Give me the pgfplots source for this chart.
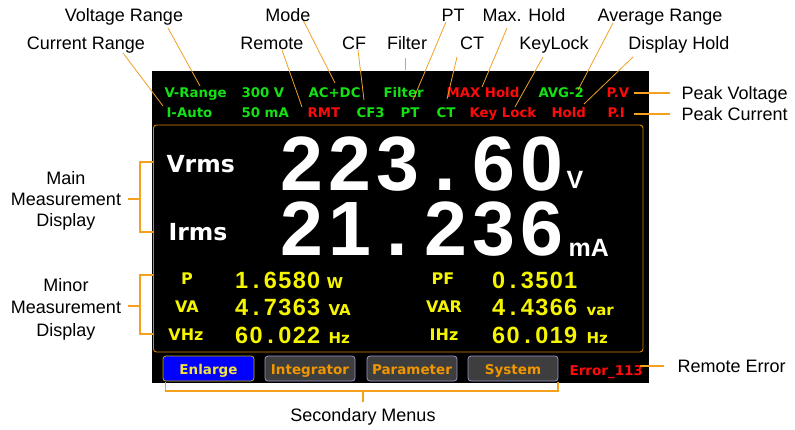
\documentclass[border=0pt]{standalone}
\usepackage{pgfplots}
\pgfplotsset{compat=1.18}
\usepackage{fontspec}
\setmainfont{Liberation Sans}
\newfontfamily\dv{DejaVu Sans}
\newfontfamily\ls{Liberation Sans}
\newcommand\fs[1]{\fontsize{#1}{#1}\selectfont}
\newcommand\bc[1]{\makebox[48pt][c]{#1}}
\newcommand\mc[1]{\makebox[14.4pt][c]{#1}}
\definecolor{ld}{RGB}{240,160,40}
\definecolor{br}{RGB}{245,160,30}
\definecolor{fr}{RGB}{215,135,0}
\definecolor{sg}{RGB}{20,225,20}
\definecolor{sr}{RGB}{255,10,10}
\definecolor{sy}{RGB}{245,245,0}
\definecolor{btxt}{RGB}{240,150,0}
\definecolor{bgray}{RGB}{62,62,62}
\definecolor{bbord}{RGB}{150,150,200}
\definecolor{eyl}{RGB}{240,225,70}
\definecolor{eborder}{RGB}{190,170,0}
\begin{document}
\begin{tikzpicture}
\begin{axis}[x=1pt,y=1pt,y dir=reverse,xmin=0,xmax=795,ymin=0,ymax=429,
  hide axis,scale only axis,clip=false,
  every node/.append style={inner sep=0pt,outer sep=0pt}]
\path (axis cs:0,0) rectangle (axis cs:795,429);
% screen
\fill[black] (axis cs:152,71) rectangle (axis cs:649,383);
\draw[fr,line width=0.9pt,rounded corners=3pt] (axis cs:153.5,125) rectangle (axis cs:643,352);
% status rows
\begin{scope}[every node/.append style={anchor=base west,font=\dv\bfseries\fs{13.3}}]
\node[text=sg] at (axis cs:161,97) {V-Range};
\node[text=sg] at (axis cs:238,97) {300 V};
\node[text=sg] at (axis cs:305,97) {AC+DC};
\node[text=sg] at (axis cs:380,97) {Filter};
\node[text=sr] at (axis cs:443,97) {MAX Hold};
\node[text=sg] at (axis cs:535,97) {AVG-2};
\node[text=sr] at (axis cs:603,97) {P.V};
\node[text=sg] at (axis cs:163,117) {I-Auto};
\node[text=sg] at (axis cs:238,117) {50 mA};
\node[text=sr] at (axis cs:304,117) {RMT};
\node[text=sg] at (axis cs:353,117) {CF3};
\node[text=sg] at (axis cs:397,117) {PT};
\node[text=sg] at (axis cs:433,117) {CT};
\node[text=sr] at (axis cs:466,117) {Key Lock};
\node[text=sr] at (axis cs:548,117) {Hold};
\node[text=sr] at (axis cs:604,117) {P.I};
\end{scope}
% main measurement
\node[anchor=base west,text=white,font=\dv\bfseries\fs{23.5}] at (axis cs:163,172) {Vrms};
\node[anchor=base west,text=white,font=\dv\bfseries\fs{23.5}] at (axis cs:165,240) {Irms};
\node[anchor=base west,text=white,font=\ls\bfseries\fs{77},text height=56pt,text depth=0pt] at (axis cs:274,190) {\bc{2}\bc{2}\bc{3}\bc{.}\bc{6}\bc{0}};
\node[anchor=base west,text=white,font=\ls\bfseries\fs{77},text height=56pt,text depth=0pt] at (axis cs:274,255) {\bc{2}\bc{1}\bc{.}\bc{2}\bc{3}\bc{6}};
\node[anchor=base west,text=white,font=\ls\bfseries\fs{25}] at (axis cs:563,188) {V};
\node[anchor=base west,text=white,font=\ls\bfseries\fs{25}] at (axis cs:565,256) {mA};
% minor measurement
\begin{scope}[every node/.append style={anchor=base,text=sy,font=\dv\bfseries\fs{16}}]
\node at (axis cs:187,284) {P};
\node at (axis cs:187,312) {VA};
\node at (axis cs:186,340) {VHz};
\node at (axis cs:443,284) {PF};
\node at (axis cs:444,312) {VAR};
\node at (axis cs:444,340) {IHz};
\end{scope}
\begin{scope}[every node/.append style={anchor=base west,text=sy,font=\ls\bfseries\fs{23.5}}]
\node at (axis cs:231,288) {\mc{1}\mc{.}\mc{6}\mc{5}\mc{8}\mc{0}};
\node at (axis cs:231,315) {\mc{4}\mc{.}\mc{7}\mc{3}\mc{6}\mc{3}};
\node at (axis cs:231,343) {\mc{6}\mc{0}\mc{.}\mc{0}\mc{2}\mc{2}};
\node at (axis cs:488,288) {\mc{0}\mc{.}\mc{3}\mc{5}\mc{0}\mc{1}};
\node at (axis cs:488,315) {\mc{4}\mc{.}\mc{4}\mc{3}\mc{6}\mc{6}};
\node at (axis cs:488,343) {\mc{6}\mc{0}\mc{.}\mc{0}\mc{1}\mc{9}};
\end{scope}
\begin{scope}[every node/.append style={anchor=base west,text=sy,font=\dv\bfseries\fs{15}}]
\node at (axis cs:323,288) {W};
\node at (axis cs:325,315) {VA};
\node at (axis cs:325,343) {Hz};
\node at (axis cs:583,315) {var};
\node at (axis cs:583,343) {Hz};
\end{scope}
% buttons
\draw[eborder,fill=blue,line width=0.8pt,rounded corners=3pt] (axis cs:163,356) rectangle (axis cs:254,381);
\draw[bbord,fill=bgray,line width=0.8pt,rounded corners=3pt] (axis cs:265,356) rectangle (axis cs:355,381);
\draw[bbord,fill=bgray,line width=0.8pt,rounded corners=3pt] (axis cs:367,356) rectangle (axis cs:457,381);
\draw[bbord,fill=bgray,line width=0.8pt,rounded corners=3pt] (axis cs:468,356) rectangle (axis cs:558,381);
\begin{scope}[every node/.append style={anchor=base,font=\dv\bfseries\fs{13.5}}]
\node[text=eyl] at (axis cs:208.5,374) {Enlarge};
\node[text=btxt] at (axis cs:310,374) {Integrator};
\node[text=btxt] at (axis cs:412,374) {Parameter};
\node[text=btxt] at (axis cs:513,374) {System};
\node[anchor=base west,text=sr] at (axis cs:566,375) {Error\_113};
\end{scope}
% leader lines
\addplot[ld,line width=0.8pt] coordinates {(168,28) (200,86)};
\addplot[ld,line width=0.8pt] coordinates {(123,53) (163,106)};
\addplot[ld,line width=0.8pt] coordinates {(302,18) (335,83)};
\addplot[ld,line width=0.8pt] coordinates {(282,50) (302,107)};
\addplot[ld,line width=0.8pt] coordinates {(358,50) (364,100)};
\addplot[ld,line width=0.8pt] coordinates {(405,58) (405,70)};
\addplot[ld,line width=0.8pt] coordinates {(446,22) (413,100)};
\addplot[ld,line width=0.8pt] coordinates {(507,28) (482,87)};
\addplot[ld,line width=0.8pt] coordinates {(457,57) (447,99)};
\addplot[ld,line width=0.8pt] coordinates {(613,23) (578,90)};
\addplot[ld,line width=0.8pt] coordinates {(543,57) (515,107)};
\addplot[ld,line width=0.8pt] coordinates {(633,57) (584,104)};
\addplot[br,line width=1.5pt] coordinates {(634,93) (670,93)};
\addplot[br,line width=1.5pt] coordinates {(634,114) (670,114)};
\addplot[br,line width=1.5pt] coordinates {(640,366) (664,366)};
% brackets
\addplot[br,line width=1.5pt] coordinates {(153,162) (140,162) (140,232) (153,232)};
\addplot[br,line width=1.5pt] coordinates {(128,199) (140,199)};
\addplot[br,line width=1.5pt] coordinates {(153,275) (140,275) (140,334) (153,334)};
\addplot[br,line width=1.5pt] coordinates {(128,306) (140,306)};
\addplot[br,line width=1.5pt] coordinates {(165.5,382) (165.5,391) (558,391) (558,382)};
\addplot[br,line width=1.5pt] coordinates {(363,391) (363,402)};
% annotations
\begin{scope}[every node/.append style={anchor=base,text=black,font=\ls\fs{18}}]
\node at (axis cs:124,21.5) {Voltage Range};
\node at (axis cs:86,49.5) {Current Range};
\node at (axis cs:288,21.5) {Mode};
\node at (axis cs:272,49.5) {Remote};
\node at (axis cs:354,49.5) {CF};
\node at (axis cs:407,49.5) {Filter};
\node at (axis cs:453,21.5) {PT};
\node at (axis cs:524,21.5) {Max. Hold};
\node at (axis cs:660,21.5) {Average Range};
\node at (axis cs:472,49.5) {CT};
\node at (axis cs:554,49.5) {KeyLock};
\node at (axis cs:679,49.5) {Display Hold};
\node[anchor=base west] at (axis cs:678,99) {Peak Voltage};
\node[anchor=base west] at (axis cs:678,120) {Peak Current};
\node[anchor=base west] at (axis cs:674,372.5) {Remote Error};
\node at (axis cs:363,421.5) {Secondary Menus};
\node at (axis cs:66,184.5) {Main};
\node at (axis cs:66,205.5) {Measurement};
\node at (axis cs:66,226.5) {Display};
\node at (axis cs:66,291.5) {Minor};
\node at (axis cs:66,313.5) {Measurement};
\node at (axis cs:66,336.5) {Display};
\end{scope}
\end{axis}
\end{tikzpicture}
\end{document}
